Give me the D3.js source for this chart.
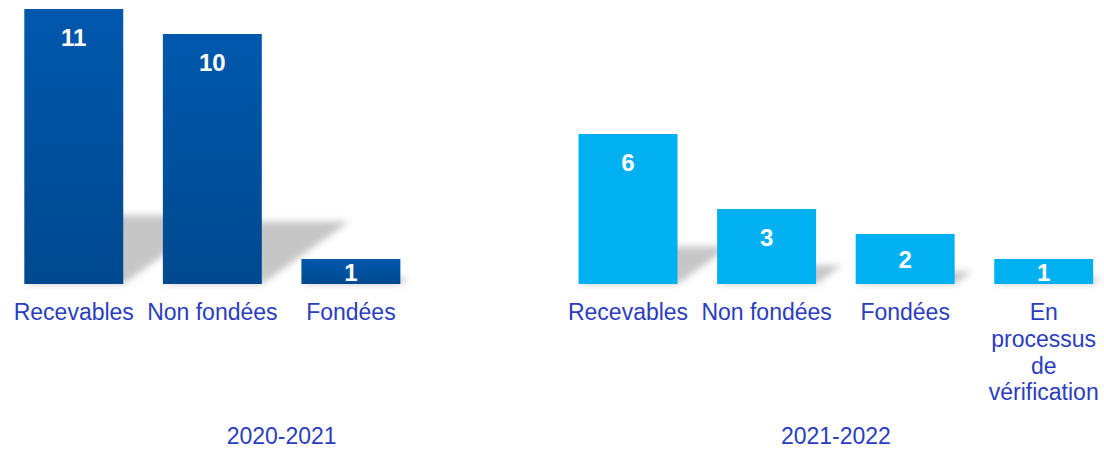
<!DOCTYPE html>
<html>
<head>
<meta charset="utf-8">
<script src="https://cdn.jsdelivr.net/npm/d3@7"></script>
<style>
  html, body { margin: 0; padding: 0; background: #ffffff; }
  svg { display: block; font-family: "Liberation Sans", Arial, sans-serif; }
</style>
</head>
<body>
<svg id="chart" width="1104" height="449"></svg>
<script>
// ---- data ----
const groups = ["2020-2021", "2021-2022"];
const categories = ["Recevables", "Non fondées", "Fondées", "En processus de vérification"];
const categoryLabels = ["Recevables", "Non fondées", "Fondées", "En\nprocessus\nde\nvérification"];
const values2020 = [11, 10, 1];
const values2021 = [6, 3, 2, 1];
const seriesValues = [values2020, values2021];

// ---- layout ----
const W = 1104, H = 449;
const baseY = 284, topY = 9;
const textColor = "#2a3dbf";
const groupColors = ["url(#gradDark)", "#00b0f0"];

const svg = d3.select("#chart");
const defs = svg.append("defs");

const grad = defs.append("linearGradient").attr("id", "gradDark")
  .attr("x1", 0).attr("y1", 0).attr("x2", 0).attr("y2", 1);
grad.append("stop").attr("offset", "0%").attr("stop-color", "#0058ad");
grad.append("stop").attr("offset", "100%").attr("stop-color", "#00498f");

const blur = defs.append("filter").attr("id", "shadowBlur")
  .attr("x", "-30%").attr("y", "-30%").attr("width", "160%").attr("height", "160%");
blur.append("feGaussianBlur").attr("stdDeviation", 3.5);

defs.append("clipPath").attr("id", "plotClip")
  .append("rect").attr("x", 0).attr("y", 0).attr("width", W).attr("height", baseY);

const x0 = d3.scaleBand().domain(groups).range([4.5, 1113]).paddingInner(0).paddingOuter(0);
const x1 = d3.scaleBand().domain(categories).range([0, x0.bandwidth()])
  .paddingInner(0.286).paddingOuter(0.143);
const y = d3.scaleLinear().domain([0, 11]).range([baseY, topY]);

const records = [];
groups.forEach((g, gi) => {
  seriesValues[gi].forEach((v, ci) => {
    records.push({ group: g, gi, cat: categories[ci], ci, value: v });
  });
});

const xPos = d => x0(d.group) + x1(d.cat);

// shadows
const shadowG = svg.append("g").attr("filter", "url(#shadowBlur)");
shadowG.selectAll("path").data(records).join("path")
  .attr("d", d => {
    const xa = xPos(d), xb = xa + x1.bandwidth();
    const h = baseY - y(d.value);
    const dx = 0.35 * h, dy = 0.25 * h;
    return `M${xa},${baseY}L${xb},${baseY}L${xb + dx},${baseY - dy}L${xa + dx},${baseY - dy}Z`;
  })
  .attr("fill", "#c6c6c6");

// bars
svg.append("g").selectAll("rect").data(records).join("rect")
  .attr("x", d => xPos(d))
  .attr("y", d => y(d.value))
  .attr("width", x1.bandwidth())
  .attr("height", d => baseY - y(d.value))
  .attr("fill", d => groupColors[d.gi]);

// value labels (inside end; centred when the bar is short)
svg.append("g").attr("clip-path", "url(#plotClip)")
  .selectAll("text").data(records).join("text")
  .attr("x", d => xPos(d) + x1.bandwidth() / 2)
  .attr("y", d => {
    const top = y(d.value);
    const mid = (top + baseY) / 2;
    return Math.min(top + 37, mid + 9);
  })
  .attr("text-anchor", "middle")
  .attr("font-size", 24)
  .attr("font-weight", "bold")
  .attr("fill", "#ffffff")
  .text(d => d.value);

// category labels
const labelG = svg.append("g");
groups.forEach((g, gi) => {
  seriesValues[gi].forEach((v, ci) => {
    const cx = x0(g) + x1(categories[ci]) + x1.bandwidth() / 2;
    const t = labelG.append("text")
      .attr("x", cx)
      .attr("y", 320)
      .attr("text-anchor", "middle")
      .attr("font-size", 23)
      .attr("fill", textColor);
    categoryLabels[ci].split("\n").forEach((line, li) => {
      t.append("tspan")
        .attr("x", cx)
        .attr("dy", li === 0 ? 0 : 26.8)
        .text(line);
    });
  });
});

// group labels
svg.append("g").selectAll("text").data(groups).join("text")
  .attr("x", d => x0(d) + x0.bandwidth() / 2)
  .attr("y", 444)
  .attr("text-anchor", "middle")
  .attr("font-size", 23)
  .attr("fill", textColor)
  .text(d => d);
</script>
</body>
</html>
